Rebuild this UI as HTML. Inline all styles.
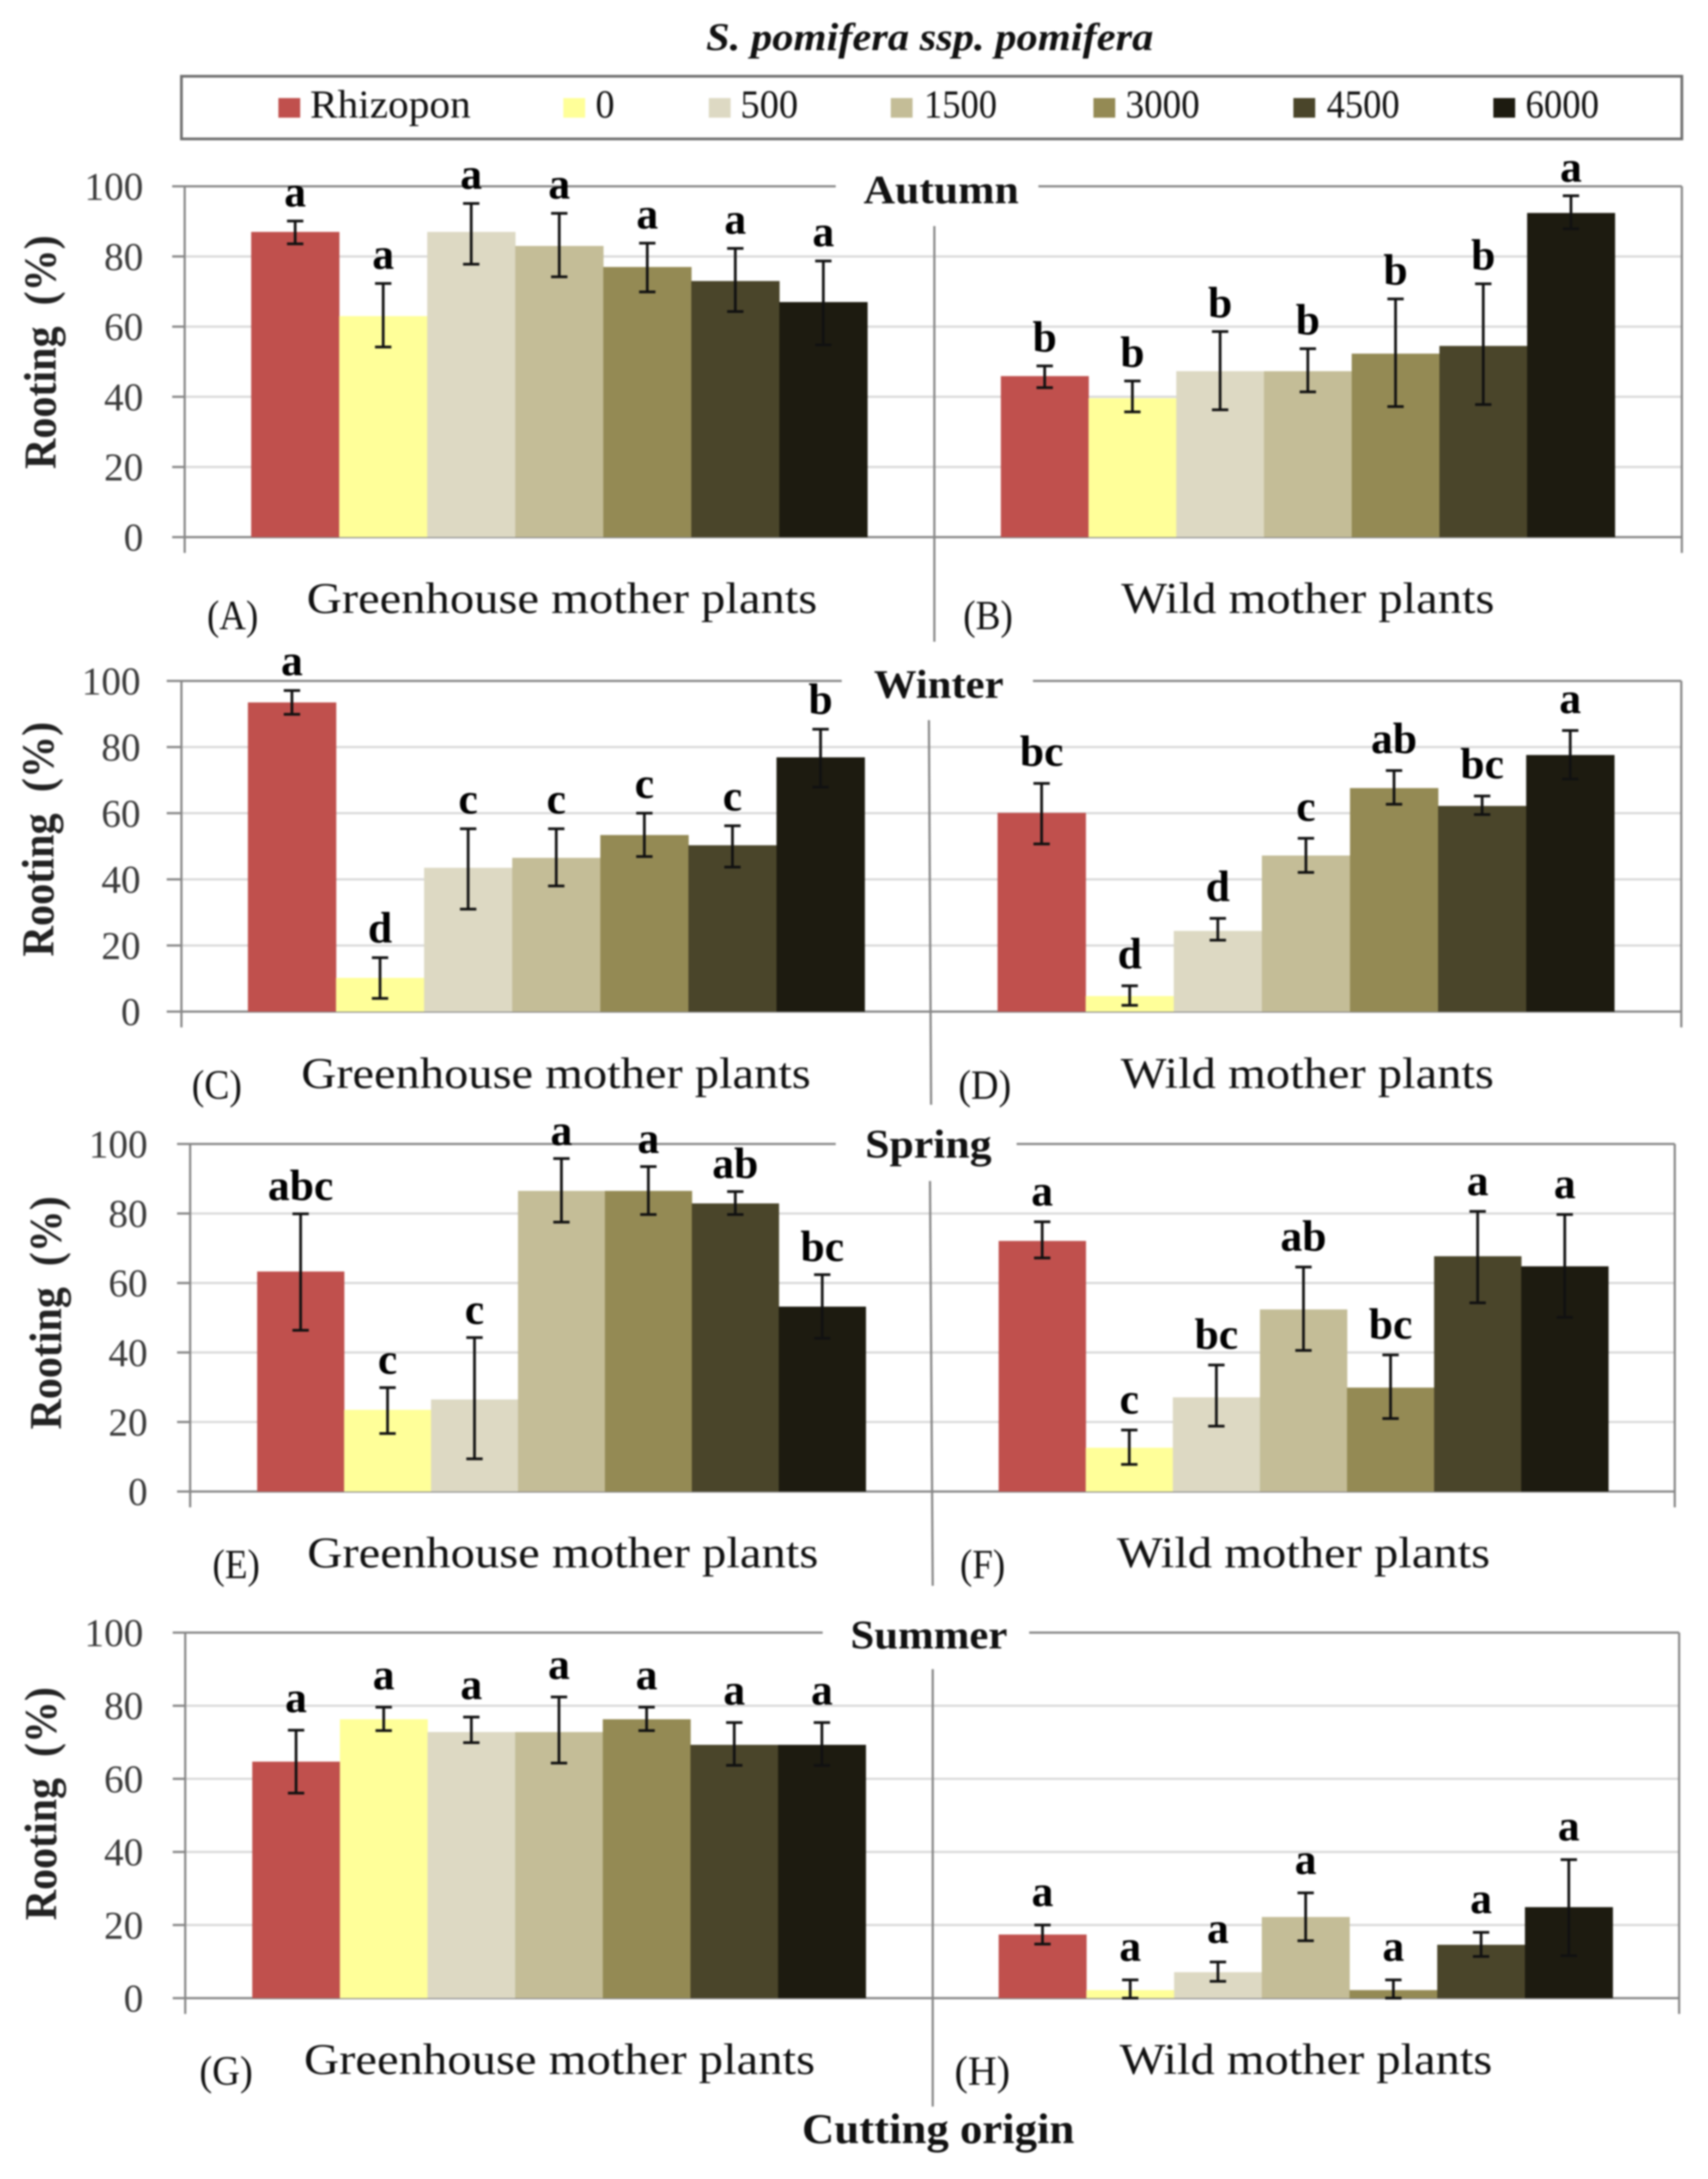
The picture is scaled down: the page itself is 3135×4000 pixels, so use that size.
<!DOCTYPE html>
<html lang="en">
<head>
<meta charset="utf-8">
<title>S. pomifera ssp. pomifera rooting by season and cutting origin</title>
<style>
  html, body { margin: 0; padding: 0; background: #fff; }
  body { width: 3135px; height: 4000px; overflow: hidden; }
  svg { display: block; font-family: "Liberation Serif", "DejaVu Serif", serif; filter: blur(1.5px); }
  .s0 { fill: #c0504d; } .s1 { fill: #ffff99; } .s2 { fill: #ddd9c3; } .s3 { fill: #c4bd97; }
  .s4 { fill: #948a54; } .s5 { fill: #4a452a; } .s6 { fill: #1d1b10; }
  .legend-text { font-size: 73px; fill: #111; }
  .season { font-size: 74px; font-weight: bold; fill: #111; }
  .origin { font-size: 81px; fill: #111; }
  .panel-tag { font-size: 76px; fill: #111; }
  .y-title { font-size: 84px; font-weight: bold; fill: #222; }
  .tick-label { font-size: 72px; fill: #3a3a3a; text-anchor: end; }
  .letter { font-size: 80px; font-weight: bold; fill: #000; text-anchor: middle; }
  .grid { stroke: #d9d9d9; stroke-width: 4; }
  .axis { stroke: #868686; stroke-width: 4; fill: none; }
  .err { stroke: #111; stroke-width: 5; }
</style>
</head>
<body>
<svg id="figure" xmlns="http://www.w3.org/2000/svg" width="3135" height="4000" viewBox="0 0 3135 4000">
  <rect x="0" y="0" width="3135" height="4000" fill="#ffffff"/>
  <g id="panels"></g>

  <text x="1296" y="92" font-size="72" font-weight="bold" font-style="italic" fill="#111" textLength="821" lengthAdjust="spacingAndGlyphs">S. pomifera ssp. pomifera</text>

  <g>
    <rect x="333" y="140" width="2754" height="115" fill="#fff" stroke="#6e6e6e" stroke-width="5"/>
    <g>
      <rect class="s0" x="511" y="180" width="40" height="36"/>
      <text class="legend-text" x="569" y="216" textLength="295" lengthAdjust="spacingAndGlyphs">Rhizopon</text>
    </g>
    <g>
      <rect class="s1" x="1034" y="180" width="40" height="36"/>
      <text class="legend-text" x="1093" y="216" textLength="35" lengthAdjust="spacingAndGlyphs">0</text>
    </g>
    <g>
      <rect class="s2" x="1301" y="180" width="40" height="36"/>
      <text class="legend-text" x="1359" y="216" textLength="106" lengthAdjust="spacingAndGlyphs">500</text>
    </g>
    <g>
      <rect class="s3" x="1635" y="180" width="40" height="36"/>
      <text class="legend-text" x="1696" y="216" textLength="134" lengthAdjust="spacingAndGlyphs">1500</text>
    </g>
    <g>
      <rect class="s4" x="2007" y="180" width="40" height="36"/>
      <text class="legend-text" x="2066" y="216" textLength="136" lengthAdjust="spacingAndGlyphs">3000</text>
    </g>
    <g>
      <rect class="s5" x="2374" y="180" width="40" height="36"/>
      <text class="legend-text" x="2435" y="216" textLength="134" lengthAdjust="spacingAndGlyphs">4500</text>
    </g>
    <g>
      <rect class="s6" x="2741" y="180" width="40" height="36"/>
      <text class="legend-text" x="2800" y="216" textLength="135" lengthAdjust="spacingAndGlyphs">6000</text>
    </g>
  </g>

  <text class="season" x="1585" y="373" textLength="285" lengthAdjust="spacingAndGlyphs">Autumn</text>
  <text class="season" x="1604" y="1281" textLength="238" lengthAdjust="spacingAndGlyphs">Winter</text>
  <text class="season" x="1588" y="2125" textLength="232" lengthAdjust="spacingAndGlyphs">Spring</text>
  <text class="season" x="1561" y="3026" textLength="288" lengthAdjust="spacingAndGlyphs">Summer</text>

  <text class="y-title" transform="translate(102,861) rotate(-90)" textLength="429" lengthAdjust="spacingAndGlyphs">Rooting&#160;&#160;(%)</text>
  <text class="y-title" transform="translate(98,1756) rotate(-90)" textLength="431" lengthAdjust="spacingAndGlyphs">Rooting&#160;&#160;(%)</text>
  <text class="y-title" transform="translate(112,2624) rotate(-90)" textLength="428" lengthAdjust="spacingAndGlyphs">Rooting&#160;&#160;(%)</text>
  <text class="y-title" transform="translate(103,3525) rotate(-90)" textLength="428" lengthAdjust="spacingAndGlyphs">Rooting&#160;&#160;(%)</text>

  <text class="origin" x="563" y="1125" textLength="937" lengthAdjust="spacingAndGlyphs">Greenhouse mother plants</text>
  <text class="origin" x="2058" y="1125" textLength="685" lengthAdjust="spacingAndGlyphs">Wild mother plants</text>
  <text class="origin" x="553" y="1997" textLength="935" lengthAdjust="spacingAndGlyphs">Greenhouse mother plants</text>
  <text class="origin" x="2057" y="1997" textLength="685" lengthAdjust="spacingAndGlyphs">Wild mother plants</text>
  <text class="origin" x="564" y="2877" textLength="938" lengthAdjust="spacingAndGlyphs">Greenhouse mother plants</text>
  <text class="origin" x="2050" y="2877" textLength="685" lengthAdjust="spacingAndGlyphs">Wild mother plants</text>
  <text class="origin" x="558" y="3807" textLength="938" lengthAdjust="spacingAndGlyphs">Greenhouse mother plants</text>
  <text class="origin" x="2055" y="3807" textLength="684" lengthAdjust="spacingAndGlyphs">Wild mother plants</text>

  <text class="panel-tag" x="380" y="1155" textLength="94" lengthAdjust="spacingAndGlyphs">(A)</text>
  <text class="panel-tag" x="1768" y="1155" textLength="91" lengthAdjust="spacingAndGlyphs">(B)</text>
  <text class="panel-tag" x="352" y="2017" textLength="92" lengthAdjust="spacingAndGlyphs">(C)</text>
  <text class="panel-tag" x="1759" y="2017" textLength="97" lengthAdjust="spacingAndGlyphs">(D)</text>
  <text class="panel-tag" x="390" y="2897" textLength="87" lengthAdjust="spacingAndGlyphs">(E)</text>
  <text class="panel-tag" x="1762" y="2897" textLength="83" lengthAdjust="spacingAndGlyphs">(F)</text>
  <text class="panel-tag" x="366" y="3827" textLength="98" lengthAdjust="spacingAndGlyphs">(G)</text>
  <text class="panel-tag" x="1752" y="3827" textLength="102" lengthAdjust="spacingAndGlyphs">(H)</text>

  <text x="1472" y="3934" font-size="78" font-weight="bold" fill="#111" textLength="500" lengthAdjust="spacingAndGlyphs">Cutting origin</text>
</svg>

<script>
// ---- Chart data: rooting percentage ----
const categories = ['Rhizopon', '0', '500', '1500', '3000', '4500', '6000'];
const tickValues = [0, 20, 40, 60, 80, 100];

const meansA = [87, 63, 87, 83, 77, 73, 67];
const upperA = [90.1, 72.3, 95.1, 92.3, 83.8, 82.3, 78.7];
const lowerA = [83.6, 54.2, 77.8, 74.2, 69.9, 64.3, 54.8];
const lettersA = ['a', 'a', 'a', 'a', 'a', 'a', 'a'];

const meansB = [45.9, 39.6, 47.3, 47.3, 52.3, 54.5, 92.4];
const upperB = [48.8, 44.5, 58.6, 53.7, 67.9, 72.2, 97.3];
const lowerB = [42.6, 35.7, 36.3, 41.4, 37.2, 37.8, 87.9];
const lettersB = ['b', 'b', 'b', 'b', 'b', 'b', 'a'];

const meansC = [93.5, 10.2, 43.5, 46.5, 53.4, 50.3, 76.9];
const upperC = [97.1, 16.3, 55.3, 55.3, 60, 56.2, 85.4];
const lowerC = [89.9, 4, 31, 38, 46.9, 43.7, 67.9];
const lettersC = ['a', 'd', 'c', 'c', 'c', 'c', 'b'];

const meansD = [60.1, 4.7, 24.4, 47.2, 67.6, 62.2, 77.6];
const upperD = [69, 7.8, 28.2, 52.4, 72.9, 65.2, 85];
const lowerD = [50.7, 1.9, 21.6, 42.1, 62.7, 59.6, 70.3];
const lettersD = ['bc', 'd', 'd', 'c', 'ab', 'bc', 'a'];

const meansE = [63.3, 23.5, 26.5, 86.5, 86.5, 82.9, 53.2];
const upperE = [79.9, 29.9, 44.3, 95.8, 93.5, 86.3, 62.4];
const lowerE = [46.4, 16.7, 9.4, 77.5, 79.7, 79.7, 44.1];
const lettersE = ['abc', 'c', 'c', 'a', 'a', 'ab', 'bc'];

const meansF = [72.1, 12.6, 27.1, 52.4, 29.9, 67.7, 64.8];
const upperF = [77.6, 17.7, 36.4, 64.6, 39.3, 80.6, 79.7];
const lowerF = [67.2, 7.8, 18.8, 40.6, 21, 54.3, 50.1];
const lettersF = ['a', 'c', 'bc', 'ab', 'bc', 'a', 'a'];

const meansG = [64.7, 76.3, 72.8, 72.8, 76.3, 69.3, 69.3];
const upperG = [73.3, 79.6, 76.9, 82.4, 79.6, 75.4, 75.4];
const lowerG = [56.1, 73.2, 69.9, 64.3, 73.2, 63.7, 63.7];
const lettersG = ['a', 'a', 'a', 'a', 'a', 'a', 'a'];

const meansH = [17.4, 2.2, 7.1, 22.2, 2.2, 14.6, 24.9];
const upperH = [20, 5, 9.9, 28.8, 5, 18, 37.9];
const lowerH = [14.8, 0, 4.6, 15.7, 0, 11.4, 11.6];
const lettersH = ['a', 'a', 'a', 'a', 'a', 'a', 'a'];

// ---- Layout (figure geometry, not data) ----
const rowAutumn = { name: 'autumn', top: 342, zero: 986, axisX: 339, tickX: 316, axisEnd: 1015, rightX: 3087, lineEnd: 1534, lineStart: 1906, tickRight: 263, div: [1715, 415, 1715, 1178] };
const rowWinter = { name: 'winter', top: 1250, zero: 1857, axisX: 333, tickX: 306, axisEnd: 1886, rightX: 3086, lineEnd: 1545, lineStart: 1896, tickRight: 258, div: [1705, 1322, 1709, 2028] };
const rowSpring = { name: 'spring', top: 2100, zero: 2738, axisX: 349, tickX: 325, axisEnd: 2767, rightX: 3074, lineEnd: 1534, lineStart: 1866, tickRight: 271, div: [1707, 2168, 1712, 2911] };
const rowSummer = { name: 'summer', top: 2997, zero: 3668, axisX: 340, tickX: 317, axisEnd: 3697, rightX: 3082, lineEnd: 1510, lineStart: 1889, tickRight: 263, div: [1712, 3064, 1712, 3867] };
const rows = [rowAutumn, rowWinter, rowSpring, rowSummer];

const panels = [
  { key: 'a', row: rowAutumn, means: meansA, upper: upperA, lower: lowerA, letters: lettersA, x0: 461, x1: 1592, gap: 27 },
  { key: 'b', row: rowAutumn, means: meansB, upper: upperB, lower: lowerB, letters: lettersB, x0: 1837, x1: 2964, gap: 26 },
  { key: 'c', row: rowWinter, means: meansC, upper: upperC, lower: lowerC, letters: lettersC, x0: 455, x1: 1587, gap: 28 },
  { key: 'd', row: rowWinter, means: meansD, upper: upperD, lower: lowerD, letters: lettersD, x0: 1831, x1: 2963, gap: 32 },
  { key: 'e', row: rowSpring, means: meansE, upper: upperE, lower: lowerE, letters: lettersE, x0: 472, x1: 1589, gap: 25 },
  { key: 'f', row: rowSpring, means: meansF, upper: upperF, lower: lowerF, letters: lettersF, x0: 1833, x1: 2952, gap: 30 },
  { key: 'g', row: rowSummer, means: meansG, upper: upperG, lower: lowerG, letters: lettersG, x0: 463, x1: 1589, gap: 33 },
  { key: 'h', row: rowSummer, means: meansH, upper: upperH, lower: lowerH, letters: lettersH, x0: 1833, x1: 2960, gap: 35 }
];

const SVG_NS = 'http://www.w3.org/2000/svg';
const root = document.getElementById('panels');

function make(tag, attrs, parent) {
  const el = document.createElementNS(SVG_NS, tag);
  for (const k in attrs) el.setAttribute(k, attrs[k]);
  parent.appendChild(el);
  return el;
}
function yScale(row, value) {
  return row.zero - (value / 100) * (row.zero - row.top);
}
function bandWidth(panel) {
  return (panel.x1 - panel.x0) / categories.length;
}
function xBand(panel, i) {
  return panel.x0 + i * bandWidth(panel);
}

// Axes and gridlines for each season row
rows.forEach(function (row) {
  const g = make('g', {}, root);
  
  

  tickValues.forEach(function (t) {
    const y = yScale(row, t);
    if (t !== 0 && t !== 100) {
      const grid = make('line', { x1: row.tickX, x2: row.rightX, y1: y, y2: y, class: 'grid' }, g);
      
      
      const tick = make('line', { x1: row.tickX, x2: row.axisX, y1: y, y2: y, class: 'axis' }, g);
      
      
    }
    const label = make('text', { x: row.tickRight, y: y + 25, class: 'tick-label' }, g);
    
    
    label.textContent = String(t);
  });

  const topY = yScale(row, 100);
  const zeroY = yScale(row, 0);

  const topLeft = make('line', { x1: row.tickX, x2: row.lineEnd, y1: topY, y2: topY, class: 'axis' }, g);
  
  

  const topRight = make('line', { x1: row.lineStart, x2: row.rightX, y1: topY, y2: topY, class: 'axis' }, g);
  
  

  const base = make('line', { x1: row.tickX, x2: row.rightX, y1: zeroY, y2: zeroY, class: 'axis' }, g);
  
  

  const leftAxis = make('line', { x1: row.axisX, x2: row.axisX, y1: topY, y2: row.axisEnd, class: 'axis' }, g);
  
  

  const rightAxis = make('line', { x1: row.rightX, x2: row.rightX, y1: topY, y2: row.axisEnd, class: 'axis' }, g);
  
  

  const divider = make('line', { x1: row.div[0], y1: row.div[1], x2: row.div[2], y2: row.div[3], class: 'axis' }, g);
  
  
});

// Bars, error bars and significance letters for each panel
panels.forEach(function (panel) {
  const row = panel.row;
  const g = make('g', {}, root);
  
  
  const w = bandWidth(panel);

  categories.forEach(function (cat, i) {
    const y = yScale(row, panel.means[i]);
    const bar = make('rect', { x: xBand(panel, i), y: y, width: w + 0.5, height: yScale(row, 0) - y, class: 's' + i }, g);
    
    
  });

  categories.forEach(function (cat, i) {
    const cx = xBand(panel, i) + w / 2;
    const yHi = yScale(row, panel.upper[i]);
    const yLo = yScale(row, panel.lower[i]);

    const eg = make('g', { class: 'err' }, g);
    
    

    const stem = make('line', { x1: cx, x2: cx, y1: yHi, y2: yLo }, eg);
    
    

    const capTop = make('line', { x1: cx - 15, x2: cx + 15, y1: yHi, y2: yHi }, eg);
    
    

    const capBottom = make('line', { x1: cx - 15, x2: cx + 15, y1: yLo, y2: yLo }, eg);
    
    

    const letter = make('text', { x: cx, y: yHi - panel.gap, class: 'letter' }, g);
    
    
    letter.textContent = panel.letters[i];
  });
});
</script>
</body>
</html>
